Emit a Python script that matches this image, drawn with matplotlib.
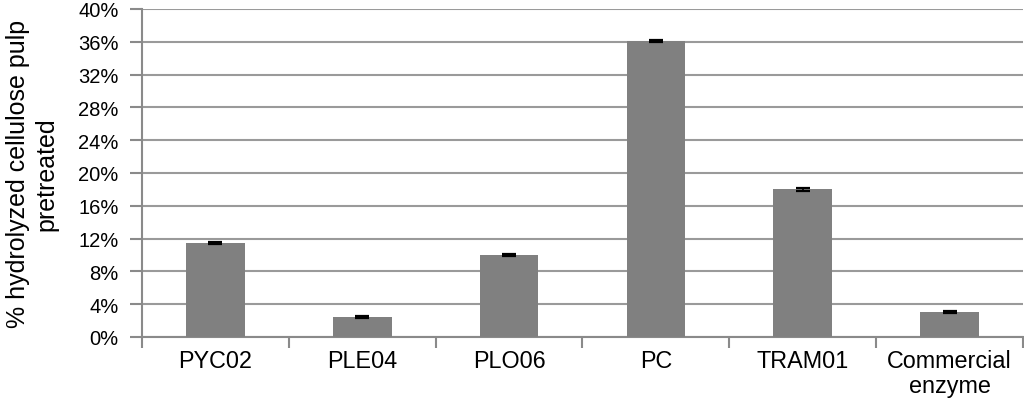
import matplotlib
matplotlib.use("Agg")
import matplotlib.pyplot as plt
from matplotlib.ticker import FuncFormatter, MultipleLocator
import numpy as np

categories = ["PYC02", "PLE04", "PLO06", "PC", "TRAM01", "Commercial\nenzyme"]
values = [11.45, 2.45, 10.05, 36.1, 18.0, 3.05]
errors = [0.15, 0.12, 0.12, 0.12, 0.2, 0.12]

plt.rcParams['font.family'] = ['Liberation Sans', 'DejaVu Sans']

fig = plt.figure(figsize=(10.24, 4.02), dpi=100)
ax = fig.add_axes([142/1024, 1-338/402, (1023-142)/1024, (338-10)/402])

x = np.arange(len(categories))
ax.bar(x, values, width=0.4, color="#808080", zorder=3)
ax.errorbar(x, values, yerr=errors, fmt="none", ecolor="black", elinewidth=1.2,
            capsize=5, capthick=1.6, zorder=4)

ax.set_xlim(-0.5, len(categories) - 0.5)
ax.set_ylim(0, 40)
ax.yaxis.set_major_locator(MultipleLocator(4))
ax.yaxis.set_major_formatter(FuncFormatter(lambda v, p: f"{v:.0f}%"))
ax.grid(axis="y", color="#9a9a9a", linewidth=1.5, zorder=0)

ax.set_xticks(x)
ax.set_xticklabels(categories, fontsize=16.8, linespacing=1.1)
ax.set_xticks(np.arange(len(categories) + 1) - 0.5, minor=True)
ax.tick_params(axis="x", which="major", length=0, pad=9)
ax.tick_params(axis="x", which="minor", length=8, width=1.5, color="#8a8a8a")
ax.tick_params(axis="y", length=9, width=1.5, color="#8a8a8a", labelsize=14.5, pad=8)

for s in ["top", "right"]:
    ax.spines[s].set_visible(False)
for s in ["left", "bottom"]:
    ax.spines[s].set_color("#8a8a8a")
    ax.spines[s].set_linewidth(1.5)

ax.set_ylabel("% hydrolyzed cellulose pulp\npretreated", fontsize=18, labelpad=14, linespacing=1.25)

fig.savefig("out.png", dpi=100)
